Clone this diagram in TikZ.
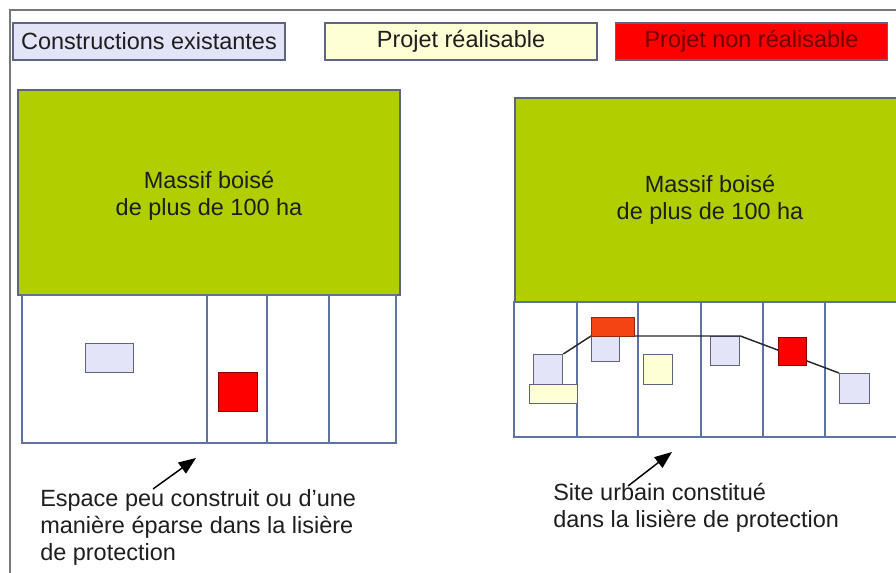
\documentclass[tikz,border=0pt]{standalone}
\usepackage{fontspec}
\setmainfont{Liberation Sans}
\usetikzlibrary{arrows.meta}

\definecolor{vertmassif}{RGB}{176,206,0}
\definecolor{bleubati}{RGB}{228,228,248}
\definecolor{jauneprojet}{RGB}{255,255,214}
\definecolor{rougeprojet}{RGB}{255,0,0}
\definecolor{orangeprojet}{RGB}{245,68,20}
\definecolor{traitparcelle}{RGB}{95,115,160}
\definecolor{traitbati}{RGB}{95,100,130}
\definecolor{texte}{RGB}{30,30,30}

\begin{document}
\begin{tikzpicture}[x=0.75pt,y=0.75pt,yscale=-1,
	every node/.style={font=\fontsize{17.6}{20.25}\selectfont,text=texte},
	taille/.style 2 args={minimum width=#1*0.75pt,minimum height=#2*0.75pt,inner sep=0pt,anchor=north west},
	legende/.style={draw=traitbati,line width=1pt,minimum width=272*0.75pt,minimum height=37*0.75pt,inner sep=0pt},
	massif/.style={draw=traitbati,line width=1pt,fill=vertmassif},
	parcelle/.style={draw=traitparcelle,line width=1.1pt,fill=white},
	bati/.style={draw=traitbati,line width=1pt,fill=bleubati},
	projok/.style={draw=traitbati,line width=1pt,fill=jauneprojet},
	projko/.style={draw={rgb,255:red,140;green,0;blue,0},line width=1pt,fill=rougeprojet},
	fleche/.style={line width=1.1pt,-{Triangle[length=13pt,width=10pt]}}]
	\useasboundingbox (0,0) rectangle (896,573);
	\clip (0,0) rectangle (896,573);
	
	% cadre
	\draw [color={rgb,255:red,120;green,120;blue,120},line width=1.1pt] (10,600) -- (10,10) -- (910,10);
	
	% legende
	\node [legende,fill=bleubati] (legbati) at (149,41.5) {Constructions existantes};
	\node [legende,fill=jauneprojet] (legok) at (461,41.5) {Projet réalisable};
	\node [legende,fill=rougeprojet,text={rgb,255:red,110;green,0;blue,0}] (legko) at (751.5,41.5) {Projet non réalisable};
	
	%%% cas de gauche
	%Shape: Rectangle
	\draw [massif] (18,90) rectangle (400,295);
	\node [align=center] (massifG) at (209,196) {Massif boisé\\de plus de 100 ha};
	%Shape: Rectangle
	\draw [parcelle] (22,295) rectangle (207,443);
	\draw [parcelle] (207,295) rectangle (267,443);
	\draw [parcelle] (267,295) rectangle (329,443);
	\draw [parcelle] (329,295) rectangle (396,443);
	\draw [traitparcelle,line width=2pt] (207,295) -- (207,443);
	
	\node [bati,taille={48}{29}] (batiG) at (85,343) {};
	\node [projko,taille={39}{39}] (koG) at (218,372) {};
	
	%%% cas de droite
	%Shape: Rectangle
	\draw [massif] (515,98) rectangle (910,302);
	\node [align=center] (massifD) at (710,200) {Massif boisé\\de plus de 100 ha};
	%Shape: Rectangle
	\draw [parcelle] (514,302) rectangle (577,437);
	\draw [parcelle] (577,302) rectangle (638,437);
	\draw [parcelle] (638,302) rectangle (701,437);
	\draw [parcelle] (701,302) rectangle (763,437);
	\draw [parcelle] (763,302) rectangle (825,437);
	\draw [parcelle] (825,302) rectangle (910,437);
	
	\node [bati,taille={29}{30}] (batiA) at (533,354) {};
	\node [projok,taille={48}{19}] (okA) at (529,384) {};
	\node [bati,taille={28}{25}] (batiB) at (591,336) {};
	\node [projok,taille={29}{30}] (okB) at (643,354) {};
	\node [bati,taille={29}{29}] (batiC) at (710,336) {};
	\node [bati,taille={30}{30}] (batiD) at (839,373) {};
	
	%Straight Lines
	\draw [color={rgb,255:red,40;green,40;blue,45},line width=1.1pt] (batiA.north east) -- (batiB.north west) -- (batiC.north east) -- (batiD.north west);
	
	\node [projko,fill=orangeprojet,draw={rgb,255:red,150;green,40;blue,10},taille={43}{19}] (koA) at (591,317) {};
	\node [projko,taille={28}{28}] (koB) at (778,337) {};
	
	% fleches et textes
	\coordinate (departG) at (153,489);
	\coordinate (pointeG) at (196,458);
	\draw [fleche] (departG) -- (pointeG);
	\coordinate (departD) at (628,486);
	\coordinate (pointeD) at (672,452);
	\draw [fleche] (departD) -- (pointeD);
	
	% Text Node
	\node [anchor=north west,inner sep=0pt,align=left] (texteG) at (40,489) {Espace peu construit ou d’une\\manière éparse dans la lisière\\de protection};
	% Text Node
	\node [anchor=north west,inner sep=0pt,align=left] (texteD) at (553,483) {Site urbain constitué\\dans la lisière de protection};
\end{tikzpicture}
\end{document}
